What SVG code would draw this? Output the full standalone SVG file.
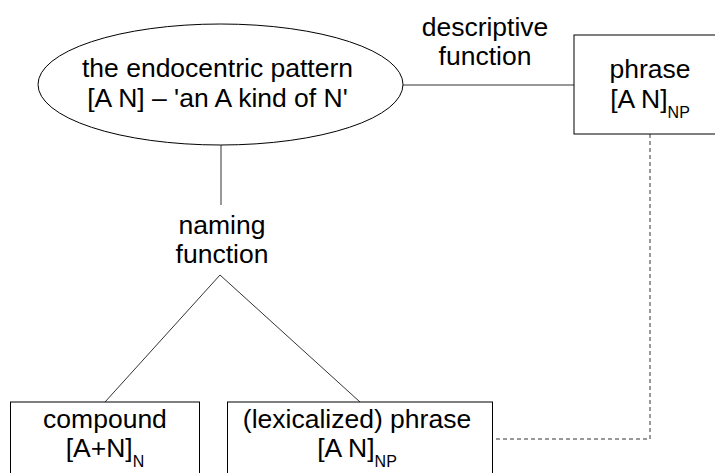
<svg xmlns="http://www.w3.org/2000/svg" width="715" height="473" viewBox="0 0 715 473">
<style>
text{font-family:"Liberation Sans",Arial,sans-serif;font-size:26.5px;fill:#000;text-anchor:middle}
.sub{font-size:16px}
.box{fill:#fff;stroke:#000;stroke-width:1}
.ln{fill:none;stroke:#333;stroke-width:1}
.dash{fill:none;stroke:#333;stroke-width:1;stroke-dasharray:4 3}
</style>
<rect width="715" height="473" fill="#fff"/>
<g id="connectors">
<line class="ln" x1="403" y1="85" x2="574" y2="85"/>
<line class="ln" x1="221" y1="145" x2="221" y2="205"/>
<polyline class="ln" points="105,402 220,275 360,402"/>
<polyline class="dash" points="650,134 650,439 492,439"/>
</g>
<g id="pattern">
<ellipse class="box" cx="220.5" cy="84.5" rx="182.5" ry="60.5"/>
<text x="217.5" y="77">the endocentric pattern</text>
<text x="217.5" y="107">[A N] – 'an A kind of N'</text>
</g>
<g id="descriptive-label">
<text x="485" y="36">descriptive</text>
<text x="485" y="65">function</text>
</g>
<g id="phrase">
<rect class="box" x="574" y="35" width="152" height="99"/>
<text x="650" y="78">phrase</text>
<text x="650" y="108"><tspan>[A N]</tspan><tspan class="sub" dy="10">NP</tspan></text>
</g>
<g id="naming-label">
<text x="222" y="234">naming</text>
<text x="222" y="263">function</text>
</g>
<g id="compound">
<rect class="box" x="10.5" y="402" width="189" height="90"/>
<text x="105" y="428">compound</text>
<text x="105" y="457"><tspan>[A+N]</tspan><tspan class="sub" dy="10">N</tspan></text>
</g>
<g id="lexicalized">
<rect class="box" x="227.5" y="402" width="265" height="90"/>
<text x="357" y="428">(lexicalized) phrase</text>
<text x="357" y="457"><tspan>[A N]</tspan><tspan class="sub" dy="10">NP</tspan></text>
</g>
</svg>
